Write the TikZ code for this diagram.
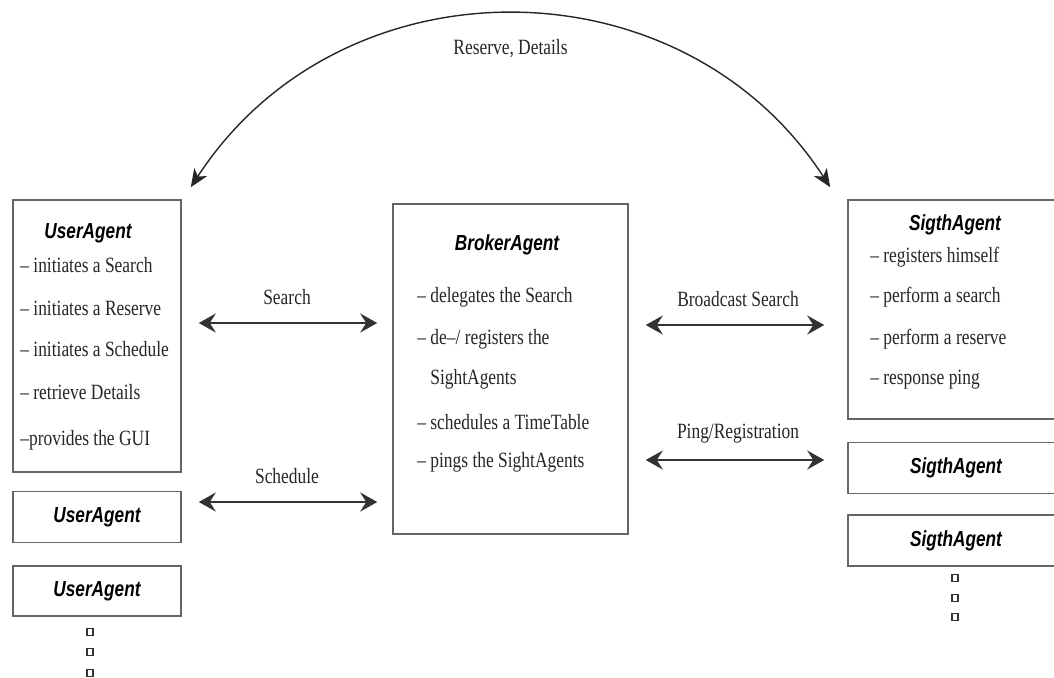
\documentclass[tikz,border=0pt]{standalone}
\usepackage{fontspec}
\setmainfont{Liberation Serif}[FakeStretch=0.8]
\newfontfamily\agentfont{Liberation Sans}[FakeStretch=0.79]
\usetikzlibrary{arrows.meta,
positioning}

\begin{document}
\begin{tikzpicture}[
				x=0.02cm, y=-0.02cm,
				agentbox/.style={draw=black!60, line width=0.9pt, inner sep=0pt},
				agenttitle/.style={font=\agentfont\bfseries\itshape\fontsize{12.4}{14}\selectfont},
				item/.style={anchor=west, inner sep=0pt, text=black!85, font=\fontsize{12.4}{14}\selectfont},
				linklabel/.style={midway, yshift=0.52cm, text=black!85, font=\fontsize{12.4}{14}\selectfont},
				link/.style={<->, >={Stealth[length=0.34cm,width=0.38cm,inset=0.12cm]}, line width=1.3pt, draw=black!80}
			]
				\useasboundingbox (0,0) rectangle (1054,677);
				\clip (0,0) rectangle (1054,677);
				% agents
				\node [agentbox, minimum width=3.36cm, minimum height=5.44cm] (ua) at (97,336) {};
				\node [agentbox, agenttitle, minimum width=3.36cm, minimum height=1.02cm, below=0.36cm of ua] (ua2) {UserAgent};
				\node [agentbox, agenttitle, minimum width=3.36cm, minimum height=1cm, below=0.44cm of ua2] (ua3) {UserAgent};
				\node [agentbox, minimum width=4.7cm, minimum height=6.6cm] (broker) at (510.5,369) {};
				\node [agentbox, minimum width=4.32cm, minimum height=4.38cm] (sa) at (956,309.5) {};
				\node [agentbox, agenttitle, minimum width=4.32cm, minimum height=1.02cm, below=0.44cm of sa] (sa2) {SigthAgent};
				\node [agentbox, agenttitle, minimum width=4.32cm, minimum height=1.02cm, below=0.4cm of sa2] (sa3) {SigthAgent};
				\node [agenttitle] (uatitle) at (88,233) {UserAgent};
				\node [agenttitle] (brokertitle) at (507,245) {BrokerAgent};
				\node [agenttitle] (satitle) at (955,225) {SigthAgent};
				% tasks
				\foreach \xx/\yy/\txt [count=\i] in {20/265/{-- initiates a Search}, 20/308/{-- initiates a Reserve},
					20/349/{-- initiates a Schedule}, 20/392/{-- retrieve Details}, 20/440/{--provides the GUI}}
					\node [item] (ualine\i) at (\xx,\yy) {\txt};
				\foreach \xx/\yy/\txt [count=\i] in {417/297/{-- delegates the Search}, 417/339/{-- de--/ registers the},
					430/379/{SightAgents}, 417/422/{-- schedules a TimeTable}, 417/462/{-- pings the SightAgents}}
					\node [item] (brokerline\i) at (\xx,\yy) {\txt};
				\foreach \xx/\yy/\txt [count=\i] in {870/257/{-- registers himself}, 870/297/{-- perform a search},
					870/339/{-- perform a reserve}, 870/380/{-- response ping}}
					\node [item] (saline\i) at (\xx,\yy) {\txt};
				% more agents
				\foreach \yy [count=\i] in {632,652,673}
					\node [draw=black!80, line width=0.6pt, inner sep=0pt, minimum width=0.12cm, minimum height=0.14cm] (uadot\i) at (90,\yy) {};
				\foreach \yy [count=\i] in {578,598,617}
					\node [draw=black!80, line width=0.6pt, inner sep=0pt, minimum width=0.12cm, minimum height=0.14cm] (sadot\i) at (955,\yy) {};
				% messages
				\draw [link, shorten <=0.34cm, shorten >=0.3cm] (ua.east |- 0,323) -- node [linklabel] {Search} (broker.west |- 0,323);
				\draw [link, shorten <=0.34cm, shorten >=0.3cm] (ua.east |- 0,502) -- node [linklabel] {Schedule} (broker.west |- 0,502);
				\draw [link, shorten <=0.34cm, shorten >=0.46cm] (broker.east |- 0,325) -- node [linklabel] {Broadcast Search} (sa.west |- 0,325);
				\draw [link, shorten <=0.34cm, shorten >=0.46cm] (broker.east |- 0,460) -- node [linklabel] {Ping/Registration} (sa.west |- 0,460);
				\draw [<->, >={Stealth[length=0.36cm,width=0.3cm,inset=0.1cm]}, line width=0.8pt, draw=black!85]
					([xshift=0.18cm,yshift=0.24cm]ua.north east) to [bend left=57, looseness=1.1]
					node [pos=0.5, yshift=-0.68cm, text=black!85, font=\fontsize{12.4}{14}\selectfont] {Reserve, Details}
					([xshift=-0.34cm,yshift=0.24cm]sa.north west);
			\end{tikzpicture}
\end{document}
